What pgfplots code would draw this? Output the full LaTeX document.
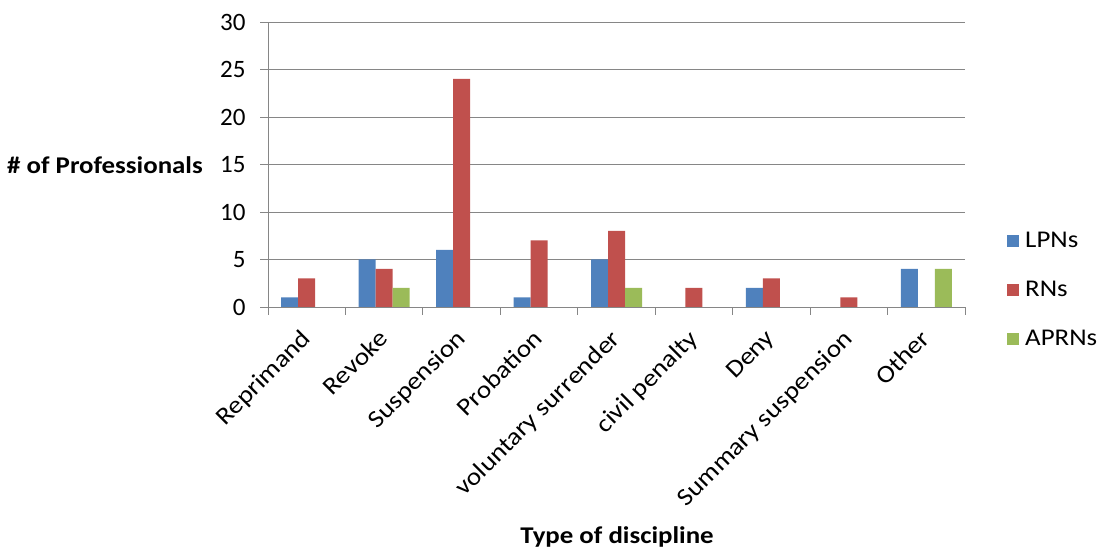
\documentclass[border=0pt]{standalone}
\usepackage{fontspec}
\setmainfont{Carlito}[FakeStretch=1.12]
\newfontfamily\numfont{Carlito}
\usepackage{pgfplots}
\pgfplotsset{compat=1.18}
\definecolor{lpn}{HTML}{4F81BD}
\definecolor{rn}{HTML}{C0504D}
\definecolor{aprn}{HTML}{9BBB59}
\definecolor{gridc}{HTML}{868686}
\newcommand{\tfont}{\fontsize{24}{28}\selectfont}
\newcommand{\rfont}{\fontsize{24.5}{28}\selectfont}
\newcommand{\nfont}{\numfont\fontsize{25}{29}\selectfont}
\begin{document}
\begin{tikzpicture}[x=1pt,y=1pt]
\path (0,0) rectangle (1102,550);
\begin{axis}[
  at={(268pt,243pt)}, anchor=south west,
  scale only axis, width=697pt, height=285pt,
  xmin=-0.5, xmax=8.5, ymin=0, ymax=30,
  axis lines*=left,
  axis line style={draw=gridc, line width=0.8pt},
  ymajorgrids, major grid style={draw=gridc, line width=0.8pt},
  ytick={0,5,...,30},
  tick align=outside,
  major tick length=8pt,
  tick style={draw=gridc, line width=0.8pt},
  xtick={-0.5,0.5,...,8.5},
  xticklabels={},
  extra x ticks={0,1,...,8},
  extra x tick labels={Reprimand,Revoke,Suspension,Probation,voluntary surrender,civil penalty,Deny,Summary suspension,Other},
  extra x tick style={major tick length=0pt, tick label style={font=\rfont, inner sep=0pt, xshift=-7pt, yshift=-21pt, rotate=45, anchor=north east}},
  y tick label style={font=\nfont, xshift=-11pt},
  /pgf/number format/assume math mode=true,
  legend style={at={(1.0603,0.061)}, anchor=west, draw=none, fill=none, font=\tfont, row sep=28pt, inner sep=0pt},
  legend cell align=left,
  legend image code/.code={\fill[#1,draw=none] (0pt,-6pt) rectangle (12pt,6pt); \path (16pt,0pt);},
]
\addplot[ybar, bar width=17pt, bar shift=-17pt, fill=lpn, draw=none] coordinates {(0,1) (1,5) (2,6) (3,1) (4,5) (6,2) (8,4)};
\addlegendentry{LPNs}
\addplot[ybar, bar width=17pt, bar shift=0pt, fill=rn, draw=none] coordinates {(0,3) (1,4) (2,24) (3,7) (4,8) (5,2) (6,3) (7,1)};
\addlegendentry{RNs}
\addplot[ybar, bar width=17pt, bar shift=17pt, fill=aprn, draw=none] coordinates {(1,2) (4,2) (8,4)};
\addlegendentry{APRNs}
\end{axis}
\node[font=\tfont\bfseries] at (105,385) {\# of Professionals};
\node[font=\tfont\bfseries] at (617,13) {Type of discipline};
\end{tikzpicture}
\end{document}
